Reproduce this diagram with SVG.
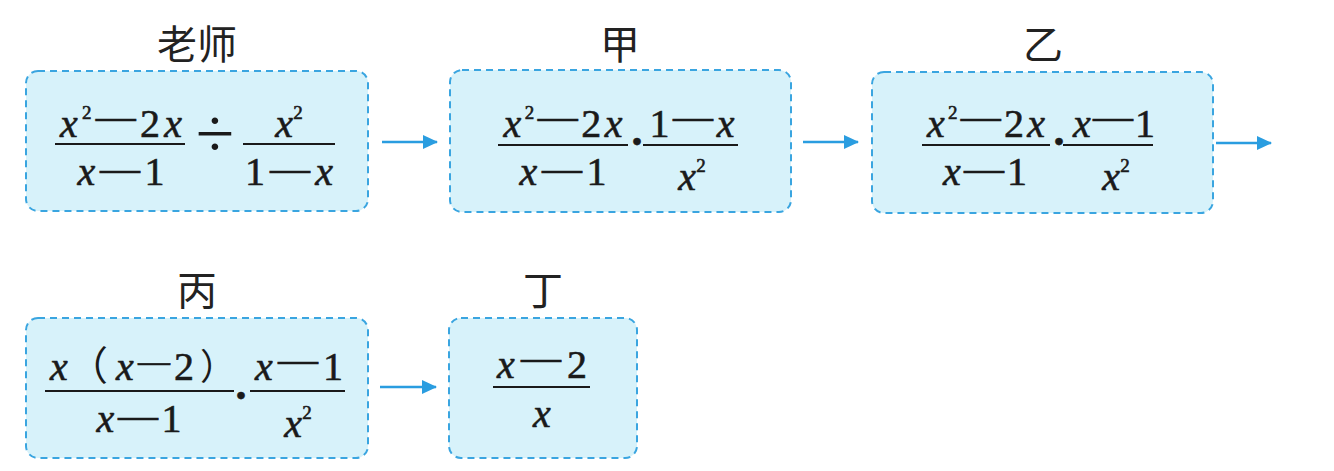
<svg xmlns="http://www.w3.org/2000/svg" width="1334" height="471" viewBox="0 0 1334 471">
<defs>
<style>
.box{fill:#d7f2fa;stroke:#3aa5e0;stroke-width:2;stroke-dasharray:7 5}
.title{font-family:"Noto Sans CJK SC","Noto Sans CJK TC",sans-serif;font-size:40px;fill:#222;text-anchor:middle}
.m{font-family:'Liberation Serif','DejaVu Serif',serif;font-size:40px;fill:#1a1a1a;stroke:#1a1a1a;stroke-width:0.6;text-anchor:middle}
.ms{font-family:'Liberation Serif','DejaVu Serif',serif;font-size:40px;fill:#1a1a1a;stroke:#1a1a1a;stroke-width:0.6}
.i{font-style:italic}
.sup{font-size:19px}
.cjk{font-family:"Noto Sans CJK SC",sans-serif;stroke-width:0}
.fl{stroke:#1a1a1a;stroke-width:2}
.conn{stroke:#2a9de0;stroke-width:2.5;fill:none}
</style>
<marker id="ah" markerUnits="userSpaceOnUse" markerWidth="16" markerHeight="14" refX="14" refY="7" orient="auto">
<path d="M0,0 L15,7 L0,14 z" fill="#2a9de0"/>
</marker>
</defs>
<rect width="1334" height="471" fill="#ffffff"/>

<g id="node-teacher">
<text class="title" x="197" y="59">老师</text>
<rect class="box" x="26" y="71" width="342" height="140" rx="12"/>
<text class="m" x="121" y="137" textLength="122" lengthAdjust="spacing"><tspan class="i">x</tspan><tspan class="sup" dy="-18">2</tspan><tspan dy="10">—</tspan><tspan dy="8">2</tspan><tspan class="i">x</tspan></text>
<line class="fl" x1="55" y1="144" x2="185" y2="144"/>
<text class="m" x="121" y="185" textLength="87" lengthAdjust="spacing"><tspan class="i">x</tspan><tspan dy="-4">—</tspan><tspan dy="4">1</tspan></text>
<text class="m" x="215" y="157" style="font-size:70px;stroke-width:0">÷</text>
<text class="m" x="289" y="137"><tspan class="i">x</tspan><tspan class="sup" dy="-18">2</tspan></text>
<line class="fl" x1="243" y1="144" x2="335" y2="144"/>
<text class="m" x="289" y="185" textLength="88" lengthAdjust="spacing"><tspan>1</tspan><tspan dy="-4">—</tspan><tspan class="i" dy="4">x</tspan></text>
</g>

<g id="node-jia">
<text class="title" x="620" y="59">甲</text>
<rect class="box" x="450" y="70" width="341" height="142" rx="12"/>
<text class="m" x="563" y="137" textLength="119" lengthAdjust="spacing"><tspan class="i">x</tspan><tspan class="sup" dy="-18">2</tspan><tspan dy="10">—</tspan><tspan dy="8">2</tspan><tspan class="i">x</tspan></text>
<line class="fl" x1="498" y1="145" x2="628" y2="145"/>
<text class="m" x="563" y="185" textLength="87" lengthAdjust="spacing"><tspan class="i">x</tspan><tspan dy="-4">—</tspan><tspan dy="4">1</tspan></text>
<text class="m" x="637" y="152" style="font-size:30px">•</text>
<text class="m" x="692" y="137" textLength="85" lengthAdjust="spacing"><tspan>1</tspan><tspan dy="-8">—</tspan><tspan class="i" dy="8">x</tspan></text>
<line class="fl" x1="643" y1="145" x2="738" y2="145"/>
<text class="m" x="692" y="190"><tspan class="i">x</tspan><tspan class="sup" dy="-18">2</tspan></text>
</g>

<g id="node-yi">
<text class="title" x="1043" y="59">乙</text>
<rect class="box" x="872" y="72" width="341" height="141" rx="12"/>
<text class="m" x="986" y="137" textLength="118" lengthAdjust="spacing"><tspan class="i">x</tspan><tspan class="sup" dy="-18">2</tspan><tspan dy="10">—</tspan><tspan dy="8">2</tspan><tspan class="i">x</tspan></text>
<line class="fl" x1="922" y1="145" x2="1050" y2="145"/>
<text class="m" x="985" y="185" textLength="84" lengthAdjust="spacing"><tspan class="i">x</tspan><tspan dy="-4">—</tspan><tspan dy="4">1</tspan></text>
<text class="m" x="1059" y="152" style="font-size:30px">•</text>
<text class="m" x="1114" y="137" textLength="82" lengthAdjust="spacing"><tspan class="i">x</tspan><tspan dy="-8">—</tspan><tspan dy="8">1</tspan></text>
<line class="fl" x1="1063" y1="145" x2="1153" y2="145"/>
<text class="m" x="1116" y="190"><tspan class="i">x</tspan><tspan class="sup" dy="-18">2</tspan></text>
</g>

<g id="node-bing">
<text class="title" x="197" y="305">丙</text>
<rect class="box" x="26" y="318" width="342" height="140" rx="12"/>
<text class="ms" y="380"><tspan class="i" x="50">x</tspan><tspan class="cjk" x="68">（</tspan><tspan class="i" x="116">x</tspan><tspan x="138" dy="-8" style="font-size:32px">—</tspan><tspan x="174" dy="8">2</tspan><tspan class="cjk" x="200" style="font-size:36px">）</tspan></text>
<line class="fl" x1="45" y1="391" x2="234" y2="391"/>
<text class="m" x="139" y="432" textLength="85" lengthAdjust="spacing"><tspan class="i">x</tspan><tspan dy="-4">—</tspan><tspan dy="4">1</tspan></text>
<text class="m" x="241" y="406" style="font-size:30px">•</text>
<text class="m" x="299" y="380" textLength="88" lengthAdjust="spacing"><tspan class="i">x</tspan><tspan dy="-8">—</tspan><tspan dy="8">1</tspan></text>
<line class="fl" x1="250" y1="391" x2="345" y2="391"/>
<text class="m" x="298" y="437"><tspan class="i">x</tspan><tspan class="sup" dy="-18">2</tspan></text>
</g>

<g id="node-ding">
<text class="title" x="543" y="305">丁</text>
<rect class="box" x="449" y="318" width="188" height="140" rx="12"/>
<text class="m" x="542" y="378" textLength="90" lengthAdjust="spacing"><tspan class="i">x</tspan><tspan dy="-8">—</tspan><tspan dy="8">2</tspan></text>
<line class="fl" x1="493" y1="387" x2="590" y2="387"/>
<text class="m i" x="542" y="427">x</text>
</g>

<g id="connectors">
<line class="conn" x1="382" y1="142" x2="437" y2="142" marker-end="url(#ah)"/>
<line class="conn" x1="803" y1="142" x2="858" y2="142" marker-end="url(#ah)"/>
<line class="conn" x1="1216" y1="143" x2="1271" y2="143" marker-end="url(#ah)"/>
<line class="conn" x1="380" y1="387" x2="436" y2="387" marker-end="url(#ah)"/>
</g>
</svg>
